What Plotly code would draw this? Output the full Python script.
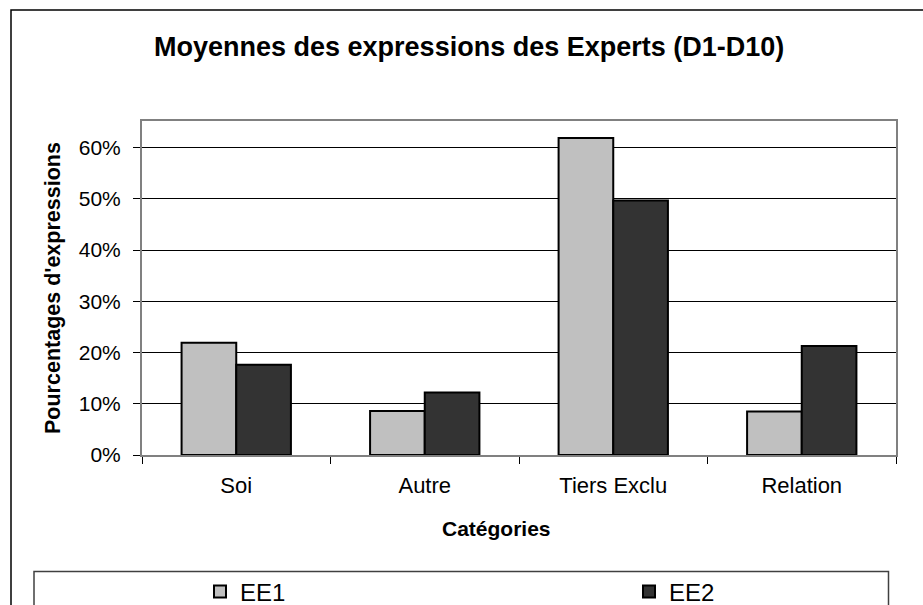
import plotly.graph_objects as go

categories = ["Soi", "Autre", "Tiers Exclu", "Relation"]
ee1_values = [0.219, 0.086, 0.619, 0.085]
ee2_values = [0.176, 0.122, 0.497, 0.213]
y_ticks = [0, 0.1, 0.2, 0.3, 0.4, 0.5, 0.6]
title_text = "Moyennes des expressions des Experts (D1-D10)"
x_title = "Catégories"
y_title = "Pourcentages d'expressions"

W, H = 923, 605
L, R, T, B = 142, 896, 121, 455


def xp(px):
    return (px - L) / (R - L)


def yp(py):
    return (B - py) / (B - T)


def xc(px):
    return px / W


def yc(py):
    return 1 - py / H


FONT = "Liberation Sans, Arial, sans-serif"

fig = go.Figure()
fig.add_trace(go.Bar(
    x=categories, y=ee1_values, name="EE1", legend="legend",
    marker=dict(color="#C0C0C0", line=dict(color="#000000", width=2)),
))
fig.add_trace(go.Bar(
    x=categories, y=ee2_values, name="EE2", legend="legend2",
    marker=dict(color="#333333", line=dict(color="#000000", width=2)),
))

shapes = [
    # outer chart border
    dict(type="rect", xref="paper", yref="paper",
         x0=xp(11), x1=xp(960), y0=yp(10), y1=yp(660),
         line=dict(color="#000000", width=1.5), fillcolor="rgba(0,0,0,0)", layer="below"),
    # legend box
    dict(type="rect", xref="paper", yref="paper",
         x0=xp(34), x1=xp(888.5), y0=yp(571.5), y1=yp(660),
         line=dict(color="#404040", width=1.5), fillcolor="rgba(0,0,0,0)", layer="below"),
]

annotations = [
    dict(text="<b>%s</b>" % title_text, xref="paper", yref="paper",
         x=xp(468.5), y=yp(47), xanchor="center", yanchor="middle",
         showarrow=False, font=dict(family=FONT, size=27, color="#000")),
    dict(text="<b>%s</b>" % x_title, xref="paper", yref="paper",
         x=xp(496.7), y=yp(528), xanchor="center", yanchor="middle",
         showarrow=False, font=dict(family=FONT, size=21, color="#000")),
    dict(text="<b>%s</b>" % y_title, xref="paper", yref="paper",
         x=xp(52.5), y=yp(288.5), xanchor="center", yanchor="middle",
         textangle=-90, showarrow=False, font=dict(family=FONT, size=21.5, color="#000")),
]

fig.update_layout(
    width=W, height=H,
    margin=dict(l=L, r=W - R, t=T, b=H - B, pad=0, autoexpand=False),
    paper_bgcolor="#FFFFFF", plot_bgcolor="#FFFFFF",
    font=dict(family=FONT, size=21, color="#000"),
    barmode="group", bargap=0.42, bargroupgap=0,
    shapes=shapes, annotations=annotations,
    legend=dict(orientation="h", xref="container", yref="container",
                x=xc(200), y=yc(592), xanchor="left", yanchor="middle",
                font=dict(family=FONT, size=24, color="#000"), bgcolor="rgba(0,0,0,0)",
                borderwidth=0),
    legend2=dict(orientation="h", xref="container", yref="container",
                 x=xc(629), y=yc(592), xanchor="left", yanchor="middle",
                 font=dict(family=FONT, size=24, color="#000"), bgcolor="rgba(0,0,0,0)",
                 borderwidth=0),
    showlegend=True,
)

fig.update_xaxes(
    type="category", showline=True, linecolor="#808080", linewidth=2, mirror=True,
    ticks="outside", tickson="boundaries", ticklen=7, tickcolor="#000", tickwidth=1,
    ticklabelstandoff=10, showgrid=False, zeroline=False,
    tickfont=dict(family=FONT, size=22, color="#000"),
)
fig.update_yaxes(
    range=[0, 0.652], tickvals=y_ticks, tickformat=".0%",
    showline=True, linecolor="#808080", linewidth=2, mirror=True,
    ticks="outside", ticklen=7, tickcolor="#000", tickwidth=1,
    ticklabelstandoff=8, showgrid=True, gridcolor="#000000", gridwidth=1,
    zeroline=False, tickfont=dict(family=FONT, size=21, color="#000"),
)

fig.write_html("out.html", config={"displayModeBar": False},
               post_script="document.body.style.margin='0px';")
